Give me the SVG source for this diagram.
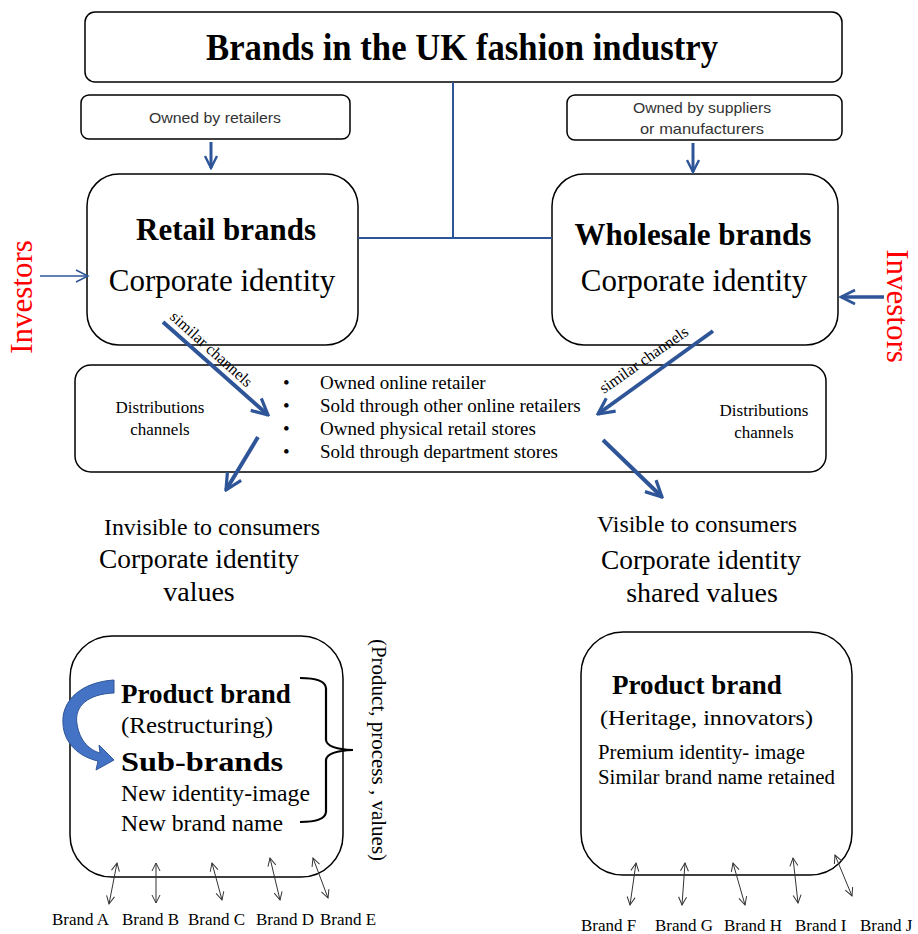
<svg xmlns="http://www.w3.org/2000/svg" width="918" height="934" viewBox="0 0 918 934">
  <defs>
    <style>
      .box { fill: #ffffff; stroke: #000000; stroke-width: 1.5; }
      .serif { font-family: "Liberation Serif", "Times New Roman", serif; fill: #000; }
      .sans { font-family: "Liberation Sans", Arial, sans-serif; fill: #333; }
      .bold { font-weight: bold; }
      .blue { stroke: #2E5597; fill: none; }
      .red { fill: #FF0000; }
      .thin { stroke: #333; stroke-width: 1; fill: none; }
    </style>
    <marker id="open-blue" viewBox="0 0 10 10" refX="9" refY="5" markerWidth="5" markerHeight="5" orient="auto" markerUnits="strokeWidth">
      <path d="M1,1 L9,5 L1,9" fill="none" stroke="#2E5597" stroke-width="1.6"/>
    </marker>
    <marker id="open-blue-small" viewBox="0 0 10 10" refX="9" refY="5" markerWidth="10" markerHeight="10" orient="auto" markerUnits="strokeWidth">
      <path d="M1,1 L9,5 L1,9" fill="none" stroke="#2E5597" stroke-width="1"/>
    </marker>
    <marker id="open-thin" viewBox="0 0 10 10" refX="9" refY="5" markerWidth="10" markerHeight="10" orient="auto-start-reverse" markerUnits="strokeWidth">
      <path d="M1,1 L9,5 L1,9" fill="none" stroke="#333" stroke-width="1"/>
    </marker>
  </defs>

  <rect width="918" height="934" fill="#ffffff"/>

  <!-- title -->
  <g id="title">
    <rect class="box" x="85" y="12" width="757" height="70" rx="10" stroke-width="2"/>
    <text class="serif bold" x="462" y="60" font-size="37" text-anchor="middle" textLength="512" lengthAdjust="spacingAndGlyphs">Brands in the UK fashion industry</text>
  </g>

  <g id="owned-retailers">
    <rect class="box" x="81" y="95" width="269" height="44" rx="8"/>
    <text class="sans" x="215" y="123" font-size="15" text-anchor="middle" textLength="132" lengthAdjust="spacingAndGlyphs">Owned by retailers</text>
  </g>

  <g id="owned-suppliers">
    <rect class="box" x="567" y="95" width="275" height="45" rx="8"/>
    <text class="sans" x="702" y="113" font-size="15" text-anchor="middle" textLength="138" lengthAdjust="spacingAndGlyphs">Owned by suppliers</text>
    <text class="sans" x="702" y="134" font-size="15" text-anchor="middle" textLength="124" lengthAdjust="spacingAndGlyphs">or manufacturers</text>
  </g>

  <g id="retail-brands">
    <rect class="box" x="87" y="174" width="271" height="171" rx="32"/>
    <text class="serif bold" x="226" y="240" font-size="31" text-anchor="middle">Retail brands</text>
    <text class="serif" x="222" y="291" font-size="31" text-anchor="middle">Corporate identity</text>
  </g>

  <g id="wholesale-brands">
    <rect class="box" x="552" y="174" width="286" height="171" rx="32"/>
    <text class="serif bold" x="693" y="245" font-size="31" text-anchor="middle">Wholesale brands</text>
    <text class="serif" x="694" y="291" font-size="31" text-anchor="middle">Corporate identity</text>
  </g>

  <g id="investors-left">
    <text class="serif red" font-size="31" text-anchor="middle" transform="translate(32,297) rotate(-90)">Investors</text>
  </g>
  <g id="investors-right">
    <text class="serif red" font-size="31" text-anchor="middle" transform="translate(887,306) rotate(90)">Investors</text>
  </g>

  <g id="distribution">
    <rect class="box" x="75" y="365" width="751" height="107" rx="16"/>
    <text class="serif" x="160" y="413" font-size="17" text-anchor="middle">Distributions</text>
    <text class="serif" x="160" y="435" font-size="17" text-anchor="middle">channels</text>
    <text class="serif" x="764" y="416" font-size="17" text-anchor="middle">Distributions</text>
    <text class="serif" x="764" y="438" font-size="17" text-anchor="middle">channels</text>
    <g class="serif" font-size="19">
      <text x="283" y="389">•</text>
      <text x="283" y="412">•</text>
      <text x="283" y="435">•</text>
      <text x="283" y="458">•</text>
      <text x="320" y="389">Owned online retailer</text>
      <text x="320" y="412">Sold through other online retailers</text>
      <text x="320" y="435">Owned physical retail stores</text>
      <text x="320" y="458">Sold through department stores</text>
    </g>
  </g>

  <g id="invisible">
    <text class="serif" x="212" y="535" font-size="23" text-anchor="middle" textLength="216" lengthAdjust="spacingAndGlyphs">Invisible to consumers</text>
    <text class="serif" x="199" y="568" font-size="28" text-anchor="middle" textLength="200" lengthAdjust="spacingAndGlyphs">Corporate identity</text>
    <text class="serif" x="199" y="601" font-size="28" text-anchor="middle">values</text>
  </g>

  <g id="visible">
    <text class="serif" x="697" y="532" font-size="23" text-anchor="middle" textLength="200" lengthAdjust="spacingAndGlyphs">Visible to consumers</text>
    <text class="serif" x="701" y="569" font-size="28" text-anchor="middle" textLength="200" lengthAdjust="spacingAndGlyphs">Corporate identity</text>
    <text class="serif" x="702" y="602" font-size="28" text-anchor="middle">shared values</text>
  </g>

  <g id="retail-product">
    <rect class="box" x="70" y="636" width="273" height="241" rx="42"/>
    <text class="serif bold" x="121" y="703" font-size="27">Product brand</text>
    <text class="serif" x="121" y="733" font-size="23" textLength="152" lengthAdjust="spacingAndGlyphs">(Restructuring)</text>
    <text class="serif bold" x="121" y="771" font-size="28" textLength="162" lengthAdjust="spacingAndGlyphs">Sub-brands</text>
    <text class="serif" x="121" y="801" font-size="23" textLength="189" lengthAdjust="spacingAndGlyphs">New identity-image</text>
    <text class="serif" x="121" y="831" font-size="23" textLength="162" lengthAdjust="spacingAndGlyphs">New brand name</text>
    <!-- curved restructuring arrow -->
    <path d="M114,693 C88,694 74,706 77,724 C80,742 90,750 100,753 L99,745 L114,760 L96,770 L98,761 C80,757 64,744 63,724 C61,700 82,682 114,680 Z" fill="#4472C4" stroke="#2E5597" stroke-width="1"/>
    <!-- brace -->
    <path d="M300,678 Q325,678 326,688 L326,740 Q327,749 353,750 Q327,751 326,760 L326,812 Q325,822 300,822" fill="none" stroke="#000" stroke-width="2.2"/>
    <text class="serif" font-size="21" transform="translate(372,750) rotate(90)" text-anchor="middle">(Product, process , values)</text>
  </g>

  <g id="wholesale-product">
    <rect class="box" x="581" y="632" width="271" height="243" rx="42"/>
    <text class="serif bold" x="612" y="694" font-size="27">Product brand</text>
    <text class="serif" x="600" y="725" font-size="22" textLength="213" lengthAdjust="spacingAndGlyphs">(Heritage,  innovators)</text>
    <text class="serif" x="598" y="759" font-size="20" textLength="207" lengthAdjust="spacingAndGlyphs">Premium identity- image</text>
    <text class="serif" x="598" y="784" font-size="20" textLength="237" lengthAdjust="spacingAndGlyphs">Similar  brand name retained</text>
  </g>

  <g id="retail-brand-links">
    <line class="thin" x1="117" y1="863" x2="109" y2="904" marker-start="url(#open-thin)" marker-end="url(#open-thin)"/>
    <line class="thin" x1="156" y1="863" x2="156" y2="903" marker-start="url(#open-thin)" marker-end="url(#open-thin)"/>
    <line class="thin" x1="212" y1="863" x2="222" y2="900" marker-start="url(#open-thin)" marker-end="url(#open-thin)"/>
    <line class="thin" x1="270" y1="858" x2="280" y2="900" marker-start="url(#open-thin)" marker-end="url(#open-thin)"/>
    <line class="thin" x1="313" y1="858" x2="328" y2="898" marker-start="url(#open-thin)" marker-end="url(#open-thin)"/>
    <g class="serif" font-size="17">
      <text x="52" y="925">Brand A</text>
      <text x="122" y="925">Brand B</text>
      <text x="188" y="925">Brand C</text>
      <text x="256" y="925">Brand D</text>
      <text x="320" y="925">Brand E</text>
    </g>
  </g>

  <g id="wholesale-brand-links">
    <line class="thin" x1="636" y1="863" x2="630" y2="905" marker-start="url(#open-thin)" marker-end="url(#open-thin)"/>
    <line class="thin" x1="685" y1="863" x2="682" y2="905" marker-start="url(#open-thin)" marker-end="url(#open-thin)"/>
    <line class="thin" x1="733" y1="863" x2="745" y2="905" marker-start="url(#open-thin)" marker-end="url(#open-thin)"/>
    <line class="thin" x1="793" y1="858" x2="798" y2="903" marker-start="url(#open-thin)" marker-end="url(#open-thin)"/>
    <line class="thin" x1="835" y1="855" x2="852" y2="896" marker-start="url(#open-thin)" marker-end="url(#open-thin)"/>
    <g class="serif" font-size="17">
      <text x="581" y="931">Brand F</text>
      <text x="655" y="931">Brand G</text>
      <text x="724" y="931">Brand H</text>
      <text x="795" y="931">Brand I</text>
      <text x="860" y="931">Brand J</text>
    </g>
  </g>

  <!-- connectors, drawn over the boxes -->
  <g id="connectors">
    <!-- title stem joining both brand types -->
    <path class="blue" d="M453,82 V238 M358,238 H552" stroke-width="2"/>
    <!-- ownership arrows -->
    <line class="blue" x1="211" y1="142" x2="211" y2="168" stroke-width="3" marker-end="url(#open-blue)"/>
    <line class="blue" x1="693" y1="143" x2="693" y2="172" stroke-width="3" marker-end="url(#open-blue)"/>
    <!-- investors -->
    <line class="blue" x1="40" y1="276" x2="88" y2="276" stroke-width="1.5" marker-end="url(#open-blue-small)"/>
    <line class="blue" x1="884" y1="297" x2="841" y2="297" stroke-width="3.5" marker-end="url(#open-blue)"/>
    <!-- similar channels -->
    <line class="blue" x1="163" y1="322" x2="268" y2="415" stroke-width="4" marker-end="url(#open-blue)"/>
    <line class="blue" x1="713" y1="331" x2="598" y2="414" stroke-width="4" marker-end="url(#open-blue)"/>
    <!-- out of distribution -->
    <line class="blue" x1="258" y1="437" x2="226" y2="490" stroke-width="4" marker-end="url(#open-blue)"/>
    <line class="blue" x1="603" y1="440" x2="662" y2="497" stroke-width="4" marker-end="url(#open-blue)"/>
    <text class="serif" font-size="16" transform="translate(169,318) rotate(42)">similar channels</text>
    <text class="serif" font-size="16" transform="translate(604,394) rotate(-35)">similar channels</text>
  </g>
</svg>
